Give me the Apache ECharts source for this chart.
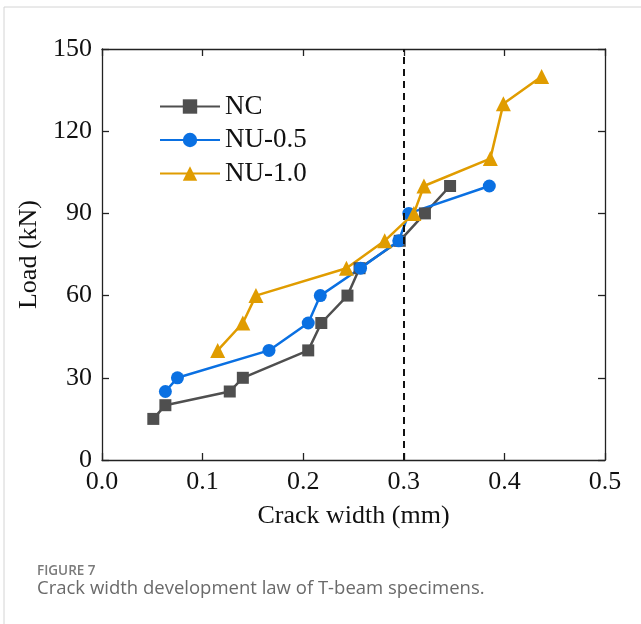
<!DOCTYPE html>
<html>
<head>
<meta charset="utf-8">
<script src="https://cdn.jsdelivr.net/npm/echarts@6/dist/echarts.min.js"></script>
<style>
  html, body { margin: 0; padding: 0; background: #fff; }
  #chart { width: 641px; height: 624px; }
</style>
</head>
<body>
<div id="chart"></div>
<script>
// crack width (mm) vs load (kN)
const ncWidth = [0.051, 0.063, 0.127, 0.140, 0.205, 0.218, 0.244, 0.256, 0.296, 0.321, 0.346];
const ncLoad = [15, 20, 25, 30, 40, 50, 60, 70, 80, 90, 100];

const nu05Width = [0.063, 0.075, 0.166, 0.205, 0.217, 0.257, 0.295, 0.305, 0.385];
const nu05Load = [25, 30, 40, 50, 60, 70, 80, 90, 100];

const nu10Width = [0.115, 0.140, 0.153, 0.243, 0.281, 0.310, 0.320, 0.386, 0.399, 0.437];
const nu10Load = [40, 50, 60, 70, 80, 90, 100, 110, 130, 140];

const limitWidth = 0.3;

const serif = 'Liberation Serif';
const axisColor = '#222';

const pairs = (xs, ys) => xs.map((x, i) => [x, ys[i]]);

const chart = echarts.init(document.getElementById('chart'));

const baseSeries = (name, color, symbol, size, xs, ys) => ({
    name: name,
    type: 'line',
    data: pairs(xs, ys),
    symbol: symbol,
    symbolSize: size,
    lineStyle: { color: color, width: 2.5 },
    itemStyle: { color: color },
    z: 3
});

const nc = baseSeries('NC', '#4f4f4f', 'rect', 12, ncWidth, ncLoad);
nc.markLine = {
    silent: true,
    symbol: 'none',
    label: { show: false },
    lineStyle: { color: '#111', type: [7, 5], width: 2 },
    data: [{ xAxis: limitWidth }]
};

chart.setOption({
    animation: false,
    backgroundColor: '#fff',
    grid: { left: 102, right: 36, top: 49, bottom: 164 },
    legend: {
        orient: 'vertical',
        left: 159,
        top: 93,
        padding: 0,
        itemWidth: 60,
        itemHeight: 18,
        itemGap: 6.5,
        textStyle: { fontFamily: serif, fontSize: 27, color: '#111' },
        data: ['NC', 'NU-0.5', 'NU-1.0']
    },
    xAxis: [{
        type: 'value',
        min: 0, max: 0.5, interval: 0.1,
        name: 'Crack width (mm)',
        nameLocation: 'middle',
        nameGap: 43,
        nameTextStyle: { fontFamily: serif, fontSize: 26, color: '#111' },
        axisLine: { onZero: false, lineStyle: { color: axisColor, width: 1.3 } },
        axisTick: { inside: true, length: 7, lineStyle: { color: axisColor, width: 1.3 } },
        axisLabel: { fontFamily: serif, fontSize: 26, color: '#111', margin: 9,
            formatter: v => v.toFixed(1) },
        splitLine: { show: false }
    }, {
        type: 'value',
        position: 'top',
        min: 0, max: 0.5, interval: 0.1,
        axisLine: { onZero: false, lineStyle: { color: axisColor, width: 1.3 } },
        axisTick: { inside: true, length: 7, lineStyle: { color: axisColor, width: 1.3 } },
        axisLabel: { show: false },
        splitLine: { show: false }
    }],
    yAxis: [{
        type: 'value',
        min: 0, max: 150, interval: 30,
        name: 'Load (kN)',
        nameLocation: 'middle',
        nameGap: 51,
        nameTextStyle: { fontFamily: serif, fontSize: 26, color: '#111' },
        axisLine: { show: true, onZero: false, lineStyle: { color: axisColor, width: 1.3 } },
        axisTick: { show: true, inside: true, length: 7, lineStyle: { color: axisColor, width: 1.3 } },
        axisLabel: { fontFamily: serif, fontSize: 26, color: '#111', margin: 10 },
        splitLine: { show: false }
    }, {
        type: 'value',
        position: 'right',
        min: 0, max: 150, interval: 30,
        axisLine: { show: true, onZero: false, lineStyle: { color: axisColor, width: 1.3 } },
        axisTick: { show: true, inside: true, length: 7, lineStyle: { color: axisColor, width: 1.3 } },
        axisLabel: { show: false },
        splitLine: { show: false }
    }],
    graphic: [
        { type: 'polyline', shape: { points: [[4, 640], [4, 7], [660, 7]] },
          style: { stroke: '#d4d4d4', lineWidth: 1, fill: null } },
        { type: 'text', left: 37, top: 564,
          style: { text: 'FIGURE 7', font: '600 13.5px "Open Sans"', fill: '#7a7a7a' } },
        { type: 'text', left: 37, top: 579,
          style: { text: 'Crack width development law of T-beam specimens.', font: '18.5px "Open Sans"', fill: '#6a6a6a' } }
    ],
    series: [
        nc,
        baseSeries('NU-0.5', '#0a70e2', 'circle', 13, nu05Width, nu05Load),
        baseSeries('NU-1.0', '#e09c00', 'triangle', 15, nu10Width, nu10Load)
    ]
});
</script>
</body>
</html>
